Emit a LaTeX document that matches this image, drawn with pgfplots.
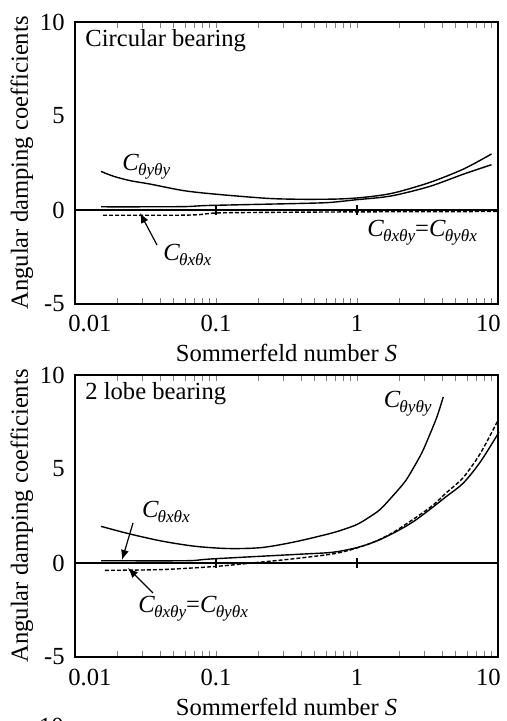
\documentclass[border=0pt]{standalone}
\usepackage{fontspec}
\setmainfont{Liberation Serif}
\usepackage{pgfplots}
\usepackage{pgfplotstable}
\pgfplotsset{compat=1.18}
\usetikzlibrary{arrows.meta}
\newcommand{\fs}{\fontsize{12.3}{14}\selectfont}
\newcommand{\Cs}[1]{\textit{C}\kern-0.04em\raisebox{-0.4ex}{\fontsize{8.6}{9}\selectfont\textit{#1}}}

\pgfplotstableread{
x y
0.0153 2.05
0.019 1.78
0.025 1.55
0.034 1.38
0.059 1.03
0.1 0.84
0.23 0.62
0.4 0.57
0.7 0.58
1.0 0.64
1.4 0.76
1.9 0.94
3.3 1.47
5.7 2.18
9.0 2.98
}\topyy
\pgfplotstableread{
x y
0.0153 0.17
0.03 0.17
0.06 0.18
0.08 0.23
0.1 0.25
0.2 0.30
0.4 0.35
0.64 0.40
1.0 0.55
1.4 0.65
1.9 0.80
3.3 1.26
5.7 1.91
9.0 2.41
}\topxx
\pgfplotstableread{
x y
0.0158 -0.28
0.05 -0.28
0.075 -0.25
0.1 -0.16
0.2 -0.13
1 -0.10
10 -0.08
}\topxy
\pgfplotstableread{
x y
0.0153 1.95
0.024 1.56
0.041 1.17
0.071 0.89
0.122 0.77
0.21 0.82
0.36 1.12
0.63 1.55
0.8 1.78
1.0 2.05
1.2 2.40
1.46 2.85
1.81 3.60
2.2 4.35
2.51 5.05
2.9 5.90
3.29 6.85
3.7 7.80
4.09 8.83
}\botyy
\pgfplotstableread{
x y
0.0153 0.12
0.06 0.12
0.08 0.18
0.1 0.23
0.21 0.36
0.4 0.47
0.63 0.55
0.8 0.66
1.0 0.82
1.2 1.00
1.46 1.25
1.91 1.68
2.51 2.20
3.29 2.85
4.32 3.55
5.67 4.25
7.45 5.35
9.78 6.75
10 6.90
}\botxx
\pgfplotstableread{
x y
0.0163 -0.39
0.041 -0.35
0.1 -0.18
0.21 0.05
0.36 0.23
0.63 0.45
0.8 0.60
1.0 0.80
1.4 1.20
1.91 1.74
3.29 2.95
4.32 3.75
5.67 4.55
7.45 5.80
9.78 7.45
10 7.65
}\botxy

\pgfplotsset{
  every axis/.append style={
    width=211.5pt, height=141pt, scale only axis,
    xmin=0.01, xmax=10, ymin=-5, ymax=10,
    axis line style={line width=0.75pt},
    major tick length=0pt,
    xtick={0.01,0.1,1,10}, xticklabels={},
    ytick={-5,0,5,10}, yticklabels={-5,0,5,10},
    yticklabel style={font=\fs, inner sep=0pt, anchor=east, xshift=-5pt},
    clip=false,
  },
}

\newcommand{\decor}{%
  \draw[line width=0.75pt] (axis cs:0.01,0) -- (axis cs:10,0);
  \draw[line width=0.6pt] ([yshift=-2.5pt]axis cs:0.1,0) -- ([yshift=2.5pt]axis cs:0.1,0);
  \draw[line width=0.6pt] ([yshift=-2.5pt]axis cs:1,0) -- ([yshift=2.5pt]axis cs:1,0);
  \node[font=\fs, inner sep=0pt, anchor=base west] at ([xshift=-3.5pt,yshift=-14pt]axis cs:0.01,-5) {0.01};
  \node[font=\fs, inner sep=0pt, anchor=base] at ([yshift=-14pt]axis cs:0.1,-5) {0.1};
  \node[font=\fs, inner sep=0pt, anchor=base] at ([yshift=-14pt]axis cs:1,-5) {1};
  \node[font=\fs, inner sep=0pt, anchor=base east] at ([xshift=1.5pt,yshift=-14pt]axis cs:10,-5) {10};
  \node[font=\fs, inner sep=0pt, anchor=base] at ([yshift=-29pt]rel axis cs:0.5,0) {Sommerfeld number \textit{S}};
  \node[font=\fs, inner sep=0pt, anchor=base, rotate=90] at ([xshift=-23.5pt]rel axis cs:0,0.5) {Angular damping coefficients};
}

\begin{document}
\begin{tikzpicture}
\useasboundingbox (0,0) rectangle (253.5pt,360.5pt);

\begin{semilogxaxis}[at={(37.5pt,208.5pt)}, anchor=south west]
  \decor
  \addplot[black, line width=0.7pt, no marks, smooth, tension=0.5] table {\topyy};
  \addplot[black, line width=0.7pt, no marks, smooth, tension=0.5] table {\topxx};
  \addplot[black, line width=0.7pt, no marks, smooth, tension=0.5, dash pattern=on 2pt off 1pt] table {\topxy};
\end{semilogxaxis}

\begin{semilogxaxis}[at={(37.5pt,32pt)}, anchor=south west]
  \decor
  \addplot[black, line width=0.7pt, no marks, smooth, tension=0.5] table {\botyy};
  \addplot[black, line width=0.7pt, no marks, smooth, tension=0.5] table {\botxx};
  \addplot[black, line width=0.7pt, no marks, smooth, tension=0.5, dash pattern=on 2pt off 1pt] table {\botxy};
\end{semilogxaxis}

% top annotations
\node[font=\fs, inner sep=0pt, anchor=base west] at (42.5pt,337pt) {Circular bearing};
\node[font=\fs, inner sep=0pt, anchor=base west] at (61pt,275pt) {\Cs{θyθy}};
\node[font=\fs, inner sep=0pt, anchor=base west] at (81.5pt,230pt) {\Cs{θxθx}};
\draw[line width=0.6pt, -{Latex[length=5pt,width=4pt]}] (78.5pt,238pt) -- (70pt,254pt);
\node[font=\fs, inner sep=0pt, anchor=base west] at (183.5pt,242pt) {\Cs{θxθy}=\Cs{θyθx}};

% bottom annotations
\node[font=\fs, inner sep=0pt, anchor=base west] at (42.5pt,160.5pt) {2 lobe bearing};
\node[font=\fs, inner sep=0pt, anchor=base west] at (191.7pt,156.5pt) {\Cs{θyθy}};
\node[font=\fs, inner sep=0pt, anchor=base west] at (70.8pt,101.5pt) {\Cs{θxθx}};
\draw[line width=0.6pt, -{Latex[length=5pt,width=4pt]}] (66.5pt,99pt) -- (61pt,80.5pt);
\node[font=\fs, inner sep=0pt, anchor=base west] at (69pt,54pt) {\Cs{θxθy}=\Cs{θyθx}};
\draw[line width=0.6pt, -{Latex[length=5pt,width=4pt]}] (76.5pt,64pt) -- (64pt,76.5pt);

% partial label of the next panel
\node[font=\fs, inner sep=0pt, anchor=north east] at (32pt,1.5pt) {10};
\end{tikzpicture}
\end{document}
